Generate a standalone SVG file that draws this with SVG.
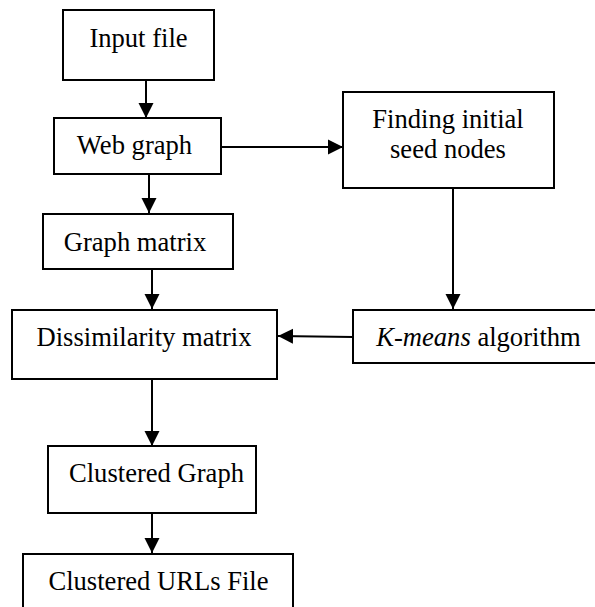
<svg xmlns="http://www.w3.org/2000/svg" width="595" height="607" viewBox="0 0 595 607">
<style>
.box{fill:#fff;stroke:#000;stroke-width:2}
.lbl{font-size:26.6px;fill:#000;text-anchor:middle}
.con{stroke:#000;stroke-width:2;fill:none;marker-end:url(#ah)}
</style>
<defs>
<marker id="ah" markerUnits="userSpaceOnUse" markerWidth="16" markerHeight="16" viewBox="0 0 16 16" refX="15" refY="8" orient="auto">
<path d="M0,0.5 L15,8 L0,15.5 Z" fill="#000"/>
</marker>
</defs>
<rect width="595" height="607" fill="#fff"/>
<g id="connectors">
<line class="con" x1="146" y1="80" x2="146" y2="118"/>
<line class="con" x1="221" y1="147" x2="343" y2="147"/>
<line class="con" x1="149" y1="174" x2="149" y2="213"/>
<line class="con" x1="152" y1="269" x2="152" y2="309"/>
<line class="con" x1="453" y1="188" x2="453" y2="309"/>
<line class="con" x1="353" y1="337" x2="278" y2="336"/>
<line class="con" x1="152" y1="377" x2="152" y2="446"/>
<line class="con" x1="152" y1="513" x2="152" y2="553"/>
</g>
<g font-family="Liberation Serif, Times New Roman, serif">
<g id="input-file">
<rect class="box" x="63" y="10" width="151" height="70"/>
<text class="lbl" x="138.5" y="47">Input file</text>
</g>
<g id="web-graph">
<rect class="box" x="54" y="118" width="167" height="56"/>
<text class="lbl" x="134.5" y="154">Web graph</text>
</g>
<g id="finding-seed">
<rect class="box" x="343" y="92" width="211" height="96"/>
<text class="lbl" x="448" y="128">Finding initial</text>
<text class="lbl" x="448" y="158">seed nodes</text>
</g>
<g id="graph-matrix">
<rect class="box" x="43" y="214" width="190" height="55"/>
<text class="lbl" x="135" y="251">Graph matrix</text>
</g>
<g id="dissimilarity-matrix">
<rect class="box" x="12" y="310" width="265" height="69"/>
<text class="lbl" x="144" y="346">Dissimilarity matrix</text>
</g>
<g id="k-means">
<rect class="box" x="353" y="310" width="245" height="53"/>
<text class="lbl" x="478.5" y="346"><tspan font-style="italic">K-means</tspan> algorithm</text>
</g>
<g id="clustered-graph">
<rect class="box" x="48" y="446" width="208" height="67"/>
<text class="lbl" x="156.5" y="482">Clustered Graph</text>
</g>
<g id="clustered-urls">
<rect class="box" x="23" y="554" width="270" height="70"/>
<text class="lbl" x="158.5" y="590">Clustered URLs File</text>
</g>
</g>
</svg>
